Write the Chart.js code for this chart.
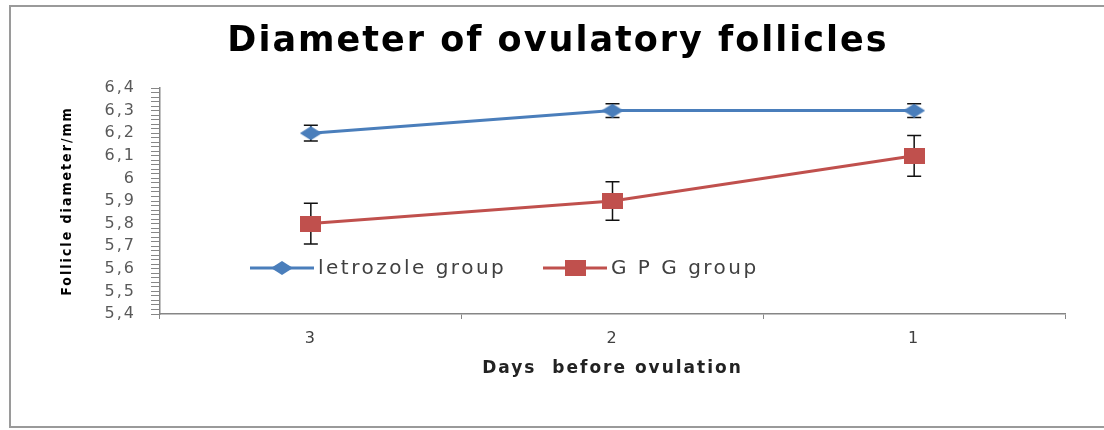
<!DOCTYPE html>
<html>
<head>
<meta charset="utf-8">
<script src="https://cdn.jsdelivr.net/npm/chart.js@4/dist/chart.umd.min.js"></script>
<style>
  html, body { margin: 0; padding: 0; background: #fff; }
  #wrap { width: 1104px; height: 430px; }
</style>
</head>
<body>
<div id="wrap"><canvas id="follicleChart"></canvas></div>
<script>
// Days before ovulation (categories)
const days = ['3', '2', '1'];
// Mean follicle diameter (mm)
const letrozole = [6.2, 6.3, 6.3];
const gpg = [5.8, 5.9, 6.1];
// Error bar half-lengths
const letrozoleErr = [0.035, 0.03, 0.03];
const gpgErr = [0.09, 0.085, 0.09];
// Y axis range
const yMin = 5.4;
const yMax = 6.4;

const blue = '#4a7ebb';
const red = '#c0504d';

// the original markers are wider than tall, so build them as small canvases
function makeMarker(kind, w, h, color) {
    const c = document.createElement('canvas');
    c.width = w;
    c.height = h;
    const g = c.getContext('2d');
    g.fillStyle = color;
    if (kind === 'diamond') {
        g.beginPath();
        g.moveTo(w / 2, 0);
        g.lineTo(w, h / 2);
        g.lineTo(w / 2, h);
        g.lineTo(0, h / 2);
        g.closePath();
        g.fill();
    } else {
        g.fillRect(0, 0, w, h);
    }
    return c;
}
const diamondMarker = makeMarker('diamond', 22, 14, blue);
const squareMarker = makeMarker('square', 21, 16, red);

// white background + outer frame; the original text is stretched wide, so space letters a bit
const framePlugin = {
    id: 'frame',
    beforeDraw(chart) {
        const ctx = chart.ctx;
        ctx.save();
        ctx.fillStyle = '#fff';
        ctx.fillRect(0, 0, chart.width, chart.height);
        ctx.strokeStyle = '#9a9a9a';
        ctx.lineWidth = 2;
        ctx.strokeRect(10, 6, chart.width + 10, 421);
        ctx.restore();
        ctx.letterSpacing = '2px';
    }
};

// error bars from the errors arrays
const errorBarPlugin = {
    id: 'errorBars',
    beforeDatasetsDraw(chart) {
        const ctx = chart.ctx;
        const yScale = chart.scales.y;
        ctx.save();
        ctx.strokeStyle = '#111';
        ctx.lineWidth = 1.5;
        chart.data.datasets.forEach((ds, i) => {
            const meta = chart.getDatasetMeta(i);
            meta.data.forEach((pt, j) => {
                const v = ds.data[j];
                const e = ds.errors[j];
                const top = yScale.getPixelForValue(v + e);
                const bot = yScale.getPixelForValue(v - e);
                ctx.beginPath();
                ctx.moveTo(pt.x, top);
                ctx.lineTo(pt.x, bot);
                ctx.moveTo(pt.x - 7, top);
                ctx.lineTo(pt.x + 7, top);
                ctx.moveTo(pt.x - 7, bot);
                ctx.lineTo(pt.x + 7, bot);
                ctx.stroke();
            });
        });
        ctx.restore();
    }
};

// legend drawn inside the plot, line + marker like the original
const lineLegendPlugin = {
    id: 'lineLegend',
    afterDraw(chart) {
        const ctx = chart.ctx;
        const y = 268;
        const items = [
            { x: 250, ds: chart.data.datasets[0] },
            { x: 543, ds: chart.data.datasets[1] }
        ];
        ctx.save();
        items.forEach(it => {
            ctx.strokeStyle = it.ds.borderColor;
            ctx.lineWidth = 3;
            ctx.beginPath();
            ctx.moveTo(it.x, y);
            ctx.lineTo(it.x + 64, y);
            ctx.stroke();
            const m = it.ds.pointStyle;
            ctx.drawImage(m, it.x + 32 - m.width / 2, y - m.height / 2);
            ctx.fillStyle = '#404040';
            ctx.font = '20px "DejaVu Sans"';
            ctx.letterSpacing = '2.5px';
            ctx.textBaseline = 'middle';
            ctx.fillText(it.ds.label, it.x + 68, y + 1);
        });
        ctx.restore();
    }
};

const ctx = document.getElementById('follicleChart').getContext('2d');
new Chart(ctx, {
    type: 'line',
    data: {
        labels: days,
        datasets: [{
            label: 'letrozole group',
            data: letrozole,
            errors: letrozoleErr,
            borderColor: blue,
            backgroundColor: blue,
            borderWidth: 3,
            pointStyle: diamondMarker,
            pointRadius: 10
        }, {
            label: 'G P G group',
            data: gpg,
            errors: gpgErr,
            borderColor: red,
            backgroundColor: red,
            borderWidth: 3,
            pointStyle: squareMarker,
            pointRadius: 10
        }]
    },
    options: {
        responsive: true,
        maintainAspectRatio: false,
        animation: false,
        layout: { padding: { left: 51, right: 39, top: 0, bottom: 0 } },
        plugins: {
            legend: { display: false },
            tooltip: { enabled: false },
            title: {
                display: true,
                text: 'Diameter of ovulatory follicles',
                color: '#000',
                font: { family: 'DejaVu Sans', size: 35, weight: 'bold', lineHeight: 1.2 },
                padding: { top: 21, bottom: 25 }
            }
        },
        scales: {
            x: {
                offset: true,
                grid: { offset: true, drawOnChartArea: false, tickLength: 5, color: '#868686' },
                border: { color: '#868686', width: 1.5 },
                ticks: { color: '#404040', font: { family: 'DejaVu Sans', size: 16 }, padding: 10 },
                title: {
                    display: true,
                    text: 'Days  before ovulation',
                    color: '#222',
                    font: { family: 'DejaVu Sans', size: 17, weight: 'bold' },
                    padding: { top: 0, bottom: 51 }
                },
                afterFit(scale) { scale.height = 116; }
            },
            y: {
                min: yMin,
                max: yMax,
                grid: { drawOnChartArea: false, tickLength: 9, color: '#868686' },
                border: { color: '#868686', width: 1.5 },
                ticks: {
                    stepSize: 0.02,
                    autoSkip: false,
                    padding: 15,
                    color: '#595959',
                    font: { family: 'DejaVu Sans', size: 16 },
                    callback(v) {
                        const n = Math.round(v * 100);
                        if (n % 10 !== 0) return '';
                        return (n / 100).toString().replace('.', ',');
                    }
                },
                title: {
                    display: true,
                    text: 'Follicle diameter/mm',
                    color: '#000',
                    font: { family: '"DejaVu Sans Condensed", sans-serif', size: 14, weight: 'bold' },
                    padding: { top: 8, bottom: 0 }
                },
                afterFit(scale) { scale.width = 109; }
            }
        }
    },
    plugins: [framePlugin, errorBarPlugin, lineLegendPlugin]
});
</script>
</body>
</html>
